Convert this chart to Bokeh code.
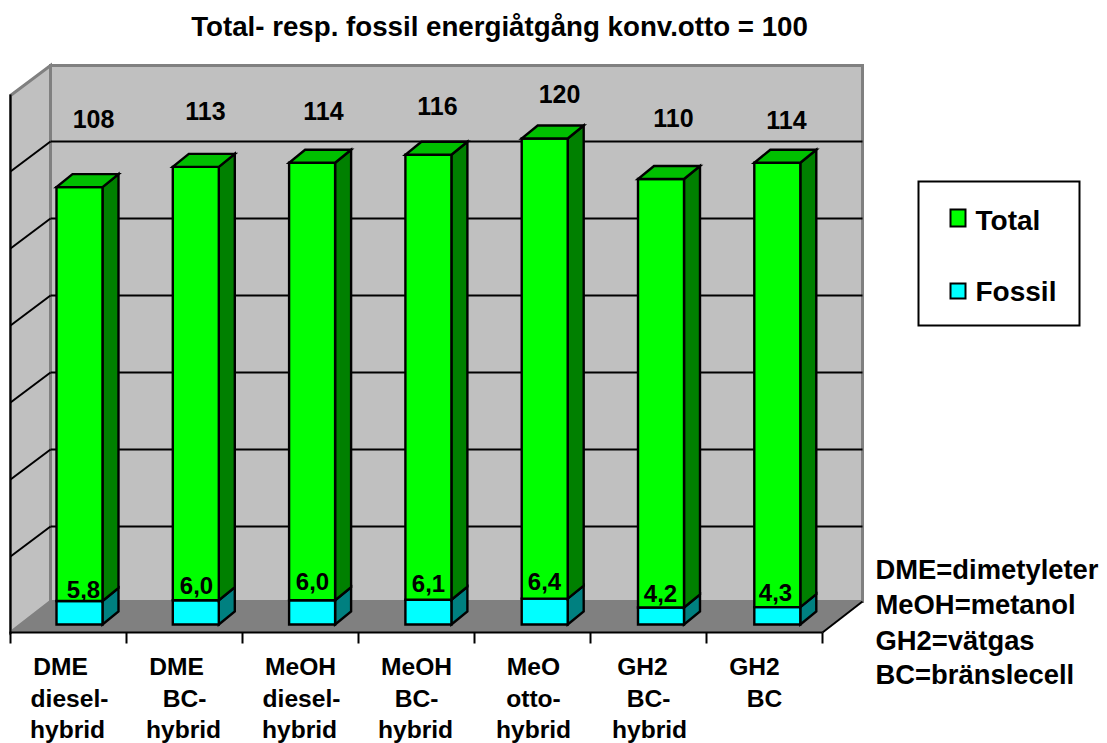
from bokeh.plotting import figure
from bokeh.models import Range1d
from bokeh.core.properties import value
from bokeh.embed import file_html
from bokeh.resources import INLINE

# Energy use per drivetrain, conventional otto engine = 100
categories = [
    ["DME", "diesel-", "hybrid"],
    ["DME", "BC-", "hybrid"],
    ["MeOH", "diesel-", "hybrid"],
    ["MeOH", "BC-", "hybrid"],
    ["MeO", "otto-", "hybrid"],
    ["GH2", "BC-", "hybrid"],
    ["GH2", "BC"],
]
total = [108, 113, 114, 116, 120, 110, 114]
fossil = [5.8, 6.0, 6.0, 6.1, 6.4, 4.2, 4.3]
fossil_labels = ["5,8", "6,0", "6,0", "6,1", "6,4", "4,2", "4,3"]
glossary = ["DME=dimetyleter", "MeOH=metanol", "GH2=vätgas", "BC=bränslecell"]
title = "Total- resp. fossil energiåtgång konv.otto = 100"

WIDTH, HEIGHT = 1107, 743
PX_PER_UNIT = 4.05
BASE_PX = 624
FONT = value("Liberation Sans")


def vy(py):
    """Screen row to value units on the bar scale."""
    return (BASE_PX - py) / PX_PER_UNIT


p = figure(
    width=WIDTH, height=HEIGHT, output_backend="svg", toolbar_location=None,
    x_range=Range1d(0, WIDTH), y_range=Range1d(vy(HEIGHT), vy(0)),
    min_border=0, outline_line_color=None, background_fill_color="white",
    border_fill_color="white",
)
p.axis.visible = False
p.grid.visible = False


def poly(pts, fill, line=None, width=2.4):
    p.patch([a for a, _ in pts], [vy(b) for _, b in pts], fill_color=fill,
            line_color=line, line_width=width, line_join="miter")


def seg(x0, y0, x1, y1, color="black", width=2):
    p.line([x0, x1], [vy(y0), vy(y1)], line_color=color, line_width=width, line_cap="butt")


def label(x, y, s, align="center", size="24px"):
    p.text([x], [vy(y)], text=[s], text_font=FONT, text_font_style="bold",
           text_font_size=size, text_align=align, text_baseline="middle", text_color="black")


# Chart box: back wall, side wall and floor
L, R, TOP, BACK, FRONT, DX, DY = 50, 862, 65, 601, 632, 40, 30
poly([(L, TOP), (R, TOP), (R, BACK), (L, BACK)], "#c0c0c0", "#808080", 3)
poly([(L - DX, TOP + DY), (L, TOP), (L, BACK), (L - DX, FRONT)], "#c0c0c0", "#808080", 3)
poly([(L - DX, FRONT), (R - DX, FRONT), (R, BACK), (L, BACK)], "#808080", None)
seg(R - DX, FRONT, R, BACK, "black", 2)

for row in [141, 218, 295, 372, 449, 526]:
    seg(L - DX, row + DY, L, row)
    seg(L, row, R, row)
seg(L - DX, TOP + DY - 1, L - DX, FRONT + 1)
seg(L - DX - 1, FRONT, R - DX, FRONT)
for i in range(8):
    tick_x = L - DX + i * 116
    seg(tick_x, FRONT, tick_x, FRONT + 11)

# Stacked 3D columns
BAR_W, BAR_DX, BAR_DY = 46, 16, 13


def column(left, low, high, front, side, top=None):
    right = left + BAR_W
    y0, y1 = BASE_PX - low * PX_PER_UNIT, BASE_PX - high * PX_PER_UNIT
    poly([(right, y0), (right + BAR_DX, y0 - BAR_DY), (right + BAR_DX, y1 - BAR_DY), (right, y1)], side, "black")
    poly([(left, y0), (right, y0), (right, y1), (left, y1)], front, "black")
    if top:
        poly([(left, y1), (right, y1), (right + BAR_DX, y1 - BAR_DY), (left + BAR_DX, y1 - BAR_DY)], top, "black")


for i, (t, f) in enumerate(zip(total, fossil)):
    left = 56 + i * 116.3
    column(left, 0, f, "#00ffff", "#008080")
    column(left, f, t, "#00ff00", "#008000", "#00c000")

# Value labels
total_label_x = [93, 205, 323, 437, 559, 673, 786]
total_label_y = [118.5, 110.5, 110.5, 105.5, 93.5, 117.5, 119.5]
for x, y, t in zip(total_label_x, total_label_y, total):
    label(x, y, str(t), size="25px")
fossil_label_x = [83, 196, 312, 428, 544, 660, 775]
fossil_label_y = [589, 585, 581, 583, 581, 593, 592]
for x, y, s in zip(fossil_label_x, fossil_label_y, fossil_labels):
    label(x, y, s)

# Category labels, one centre per text row
cat_line_x = [
    [60, 69, 67],
    [176, 184, 183],
    [300, 301, 299],
    [416, 416, 415],
    [533, 533, 533],
    [642, 648, 649],
    [754, 764],
]
cat_line_y = [666, 698, 729]
for xs, lines in zip(cat_line_x, categories):
    for x, y, line in zip(xs, cat_line_y, lines):
        label(x, y, line, size="24.6px")

# Legend
poly([(918, 181), (1079, 181), (1079, 325), (918, 325)], "white", "black", 2)
poly([(950, 209), (965, 209), (965, 226), (950, 226)], "#00ff00", "black", 2)
poly([(950, 283), (965, 283), (965, 298), (950, 298)], "#00ffff", "black", 2)
label(975, 220, "Total", "left", "28px")
label(975, 291, "Fossil", "left", "28px")

# Glossary and title
glossary_y = [569, 604, 640, 674]
for y, line in zip(glossary_y, glossary):
    label(875, y, line, "left", "27.4px")
label(499, 26, title, size="27.7px")

open("out.html", "w").write(file_html(p, INLINE))
